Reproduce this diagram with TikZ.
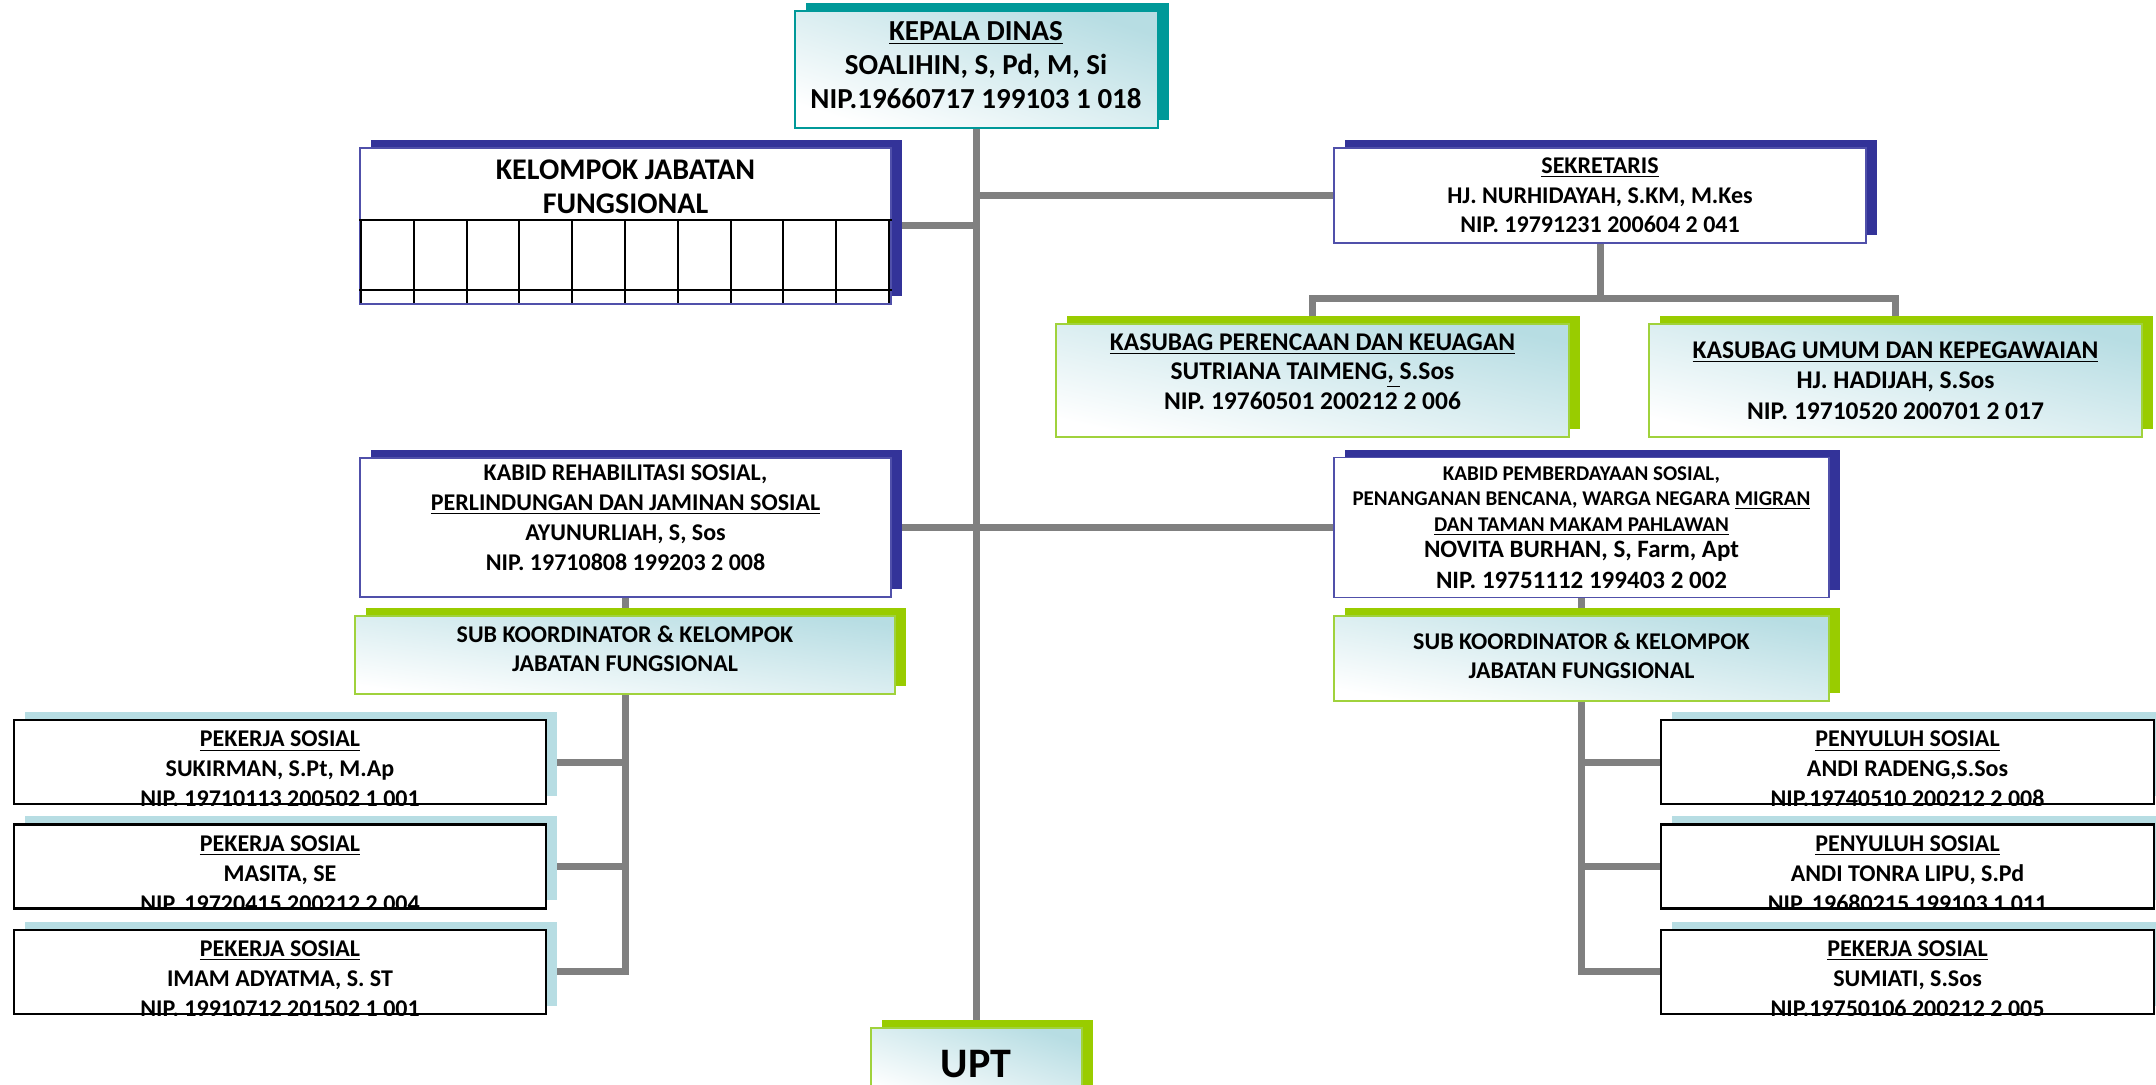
\documentclass[tikz,border=0pt]{standalone}
\usepackage{fontspec}
\setmainfont{Carlito}
\usetikzlibrary{shadows, backgrounds, positioning}

\definecolor{tealdark}{RGB}{0,153,153}
\definecolor{navyshadow}{RGB}{51,51,153}
\definecolor{navyline}{RGB}{80,80,170}
\definecolor{limeshadow}{RGB}{153,204,0}
\definecolor{limeline}{RGB}{160,210,60}
\definecolor{paleblue}{RGB}{183,221,227}
\definecolor{linkgray}{RGB}{128,128,128}

\tikzset{
  orgbox/.style={rectangle, inner sep=2pt, align=center, font=\bfseries},
  gradfill/.style={left color=white, right color=paleblue, shading angle=#1},
  gradfill/.default=167,
  headbox/.style={orgbox, draw=tealdark, line width=1pt, gradfill=162,
    general shadow={fill=tealdark, shadow xshift=5.5pt, shadow yshift=4pt}},
  navybox/.style={orgbox, draw=navyline, line width=0.8pt, fill=white,
    general shadow={fill=navyshadow, shadow xshift=5.5pt, shadow yshift=4pt}},
  limebox/.style={orgbox, draw=limeline, line width=1pt, gradfill=#1,
    general shadow={fill=limeshadow, shadow xshift=5.5pt, shadow yshift=4pt}},
  limebox/.default=167,
  staffbox/.style={orgbox, draw=black, line width=1.2pt, fill=white, minimum height=42pt,
    general shadow={fill=paleblue, shadow xshift=5.5pt, shadow yshift=4pt}},
  stafftext/.style={align=center, inner sep=0pt, anchor=north, font=\bfseries\fontsize{12}{15}\selectfont},
  link/.style={draw=linkgray, line width=3.5pt},
}

\begin{document}
\begin{tikzpicture}[x=0.5pt,y=-0.5pt]
  \useasboundingbox (0,0) rectangle (2156,1085);
  \clip (0,0) rectangle (2156,1085);

  % kepala dinas
  \node[headbox, minimum width=181.5pt, minimum height=58.5pt, text depth=5pt,
    font=\bfseries\fontsize{14.5}{17}\selectfont] (kepala) at (976,69.5)
    {\underline{KEPALA DINAS}\\SOALIHIN, S, Pd, M, Si\\NIP.19660717 199103 1 018};

  % kelompok jabatan fungsional
  \node[navybox, minimum width=265.5pt, minimum height=78pt] (kelompok) at (625.5,226) {};
  \node[align=center, inner sep=0pt, anchor=north, font=\bfseries\fontsize{15}{17}\selectfont]
    (kjtitle) at ([yshift=-6pt]kelompok.north) {KELOMPOK JABATAN\\FUNGSIONAL};
  \draw[line width=1pt] (kelompok.west |- 0,220) -- (kelompok.east |- 0,220);
  \draw[line width=1pt] (kelompok.west |- 0,290) -- (kelompok.east |- 0,290);
  \foreach \i in {0,...,10}
    \draw[line width=1pt] (361+52.8*\i,220) -- (361+52.8*\i,303);

  % sekretariat
  \node[navybox, minimum width=266pt, minimum height=47.5pt,
    font=\bfseries\fontsize{12}{14.75}\selectfont] (sekretaris) at (1600,195.5)
    {\underline{SEKRETARIS}\\HJ. NURHIDAYAH, S.KM, M.Kes\\NIP. 19791231 200604 2 041};
  \node[limebox=167.5, minimum width=256.5pt, minimum height=56.5pt, text depth=9pt,
    font=\bfseries\fontsize{12.75}{14.75}\selectfont] (kasubagP) at (1312.5,380.5)
    {\underline{KASUBAG PERENCAAN DAN KEUAGAN}\\SUTRIANA TAIMENG\underline{, }S.Sos\\NIP. 19760501 200212 2 006};
  \node[limebox=167, minimum width=246.5pt, minimum height=56.5pt,
    font=\bfseries\fontsize{12.75}{15.25}\selectfont] (kasubagU) at (1895.5,380.5)
    {\underline{KASUBAG UMUM DAN KEPEGAWAIAN}\\HJ. HADIJAH, S.Sos\\NIP. 19710520 200701 2 017};

  % bidang
  \node[navybox, minimum width=265.5pt, minimum height=69.5pt, text depth=9.5pt,
    font=\bfseries\fontsize{12}{15}\selectfont] (kabidR) at (625.5,527.5)
    {KABID REHABILITASI SOSIAL,\\\underline{PERLINDUNGAN DAN JAMINAN SOSIAL}\\AYUNURLIAH, S, Sos\\NIP. 19710808 199203 2 008};
  \node[navybox, minimum width=247.5pt, minimum height=70pt,
    font=\bfseries\fontsize{12.5}{15}\selectfont] (kabidP) at (1581.5,527.5)
    {{\fontsize{10.5}{12}\selectfont KABID PEMBERDAYAAN SOSIAL,}\\[-2.5pt]
     {\fontsize{10.5}{12}\selectfont PENANGANAN BENCANA, WARGA NEGARA \underline{MIGRAN}}\\[-2pt]
     {\fontsize{10.5}{12}\selectfont \underline{DAN TAMAN MAKAM PAHLAWAN}}\\[-2pt]
     NOVITA BURHAN, S, Farm, Apt\\[0.5pt]NIP. 19751112 199403 2 002};
  \node[limebox=172, minimum width=270pt, minimum height=39pt, text depth=6.5pt,
    font=\bfseries\fontsize{12}{14.5}\selectfont] (subR) at (625,655)
    {SUB KOORDINATOR \& KELOMPOK\\JABATAN FUNGSIONAL};
  \node[limebox=170, minimum width=247.5pt, minimum height=42.5pt, text depth=3pt,
    font=\bfseries\fontsize{12}{14.5}\selectfont] (subP) at (1581.5,658.5)
    {SUB KOORDINATOR \& KELOMPOK\\JABATAN FUNGSIONAL};

  % pekerja sosial kiri
  \node[staffbox, minimum width=266pt] (ps1) at (280,762) {};
  \node[staffbox, minimum width=266pt, below=9pt of ps1] (ps2) {};
  \node[staffbox, minimum width=266pt, below=9.5pt of ps2] (ps3) {};
  % penyuluh / pekerja sosial kanan
  \node[staffbox, minimum width=246.5pt] (ps4) at (1907.5,762) {};
  \node[staffbox, minimum width=246.5pt, below=9pt of ps4] (ps5) {};
  \node[staffbox, minimum width=246.5pt, below=9.5pt of ps5] (ps6) {};

  \begin{scope}
    \clip (ps1.south west) rectangle (ps1.north east);
    \node[stafftext] (ps1text) at ([yshift=-6pt]ps1.north)
      {\underline{PEKERJA SOSIAL}\\SUKIRMAN, S.Pt, M.Ap\\NIP. 19710113 200502 1 001};
  \end{scope}
  \begin{scope}
    \clip (ps2.south west) rectangle (ps2.north east);
    \node[stafftext] (ps2text) at ([yshift=-6pt]ps2.north)
      {\underline{PEKERJA SOSIAL}\\MASITA, SE\\NIP. 19720415 200212 2 004};
  \end{scope}
  \begin{scope}
    \clip (ps3.south west) rectangle (ps3.north east);
    \node[stafftext] (ps3text) at ([yshift=-6pt]ps3.north)
      {\underline{PEKERJA SOSIAL}\\IMAM ADYATMA, S. ST\\NIP. 19910712 201502 1 001};
  \end{scope}
  \begin{scope}
    \clip (ps4.south west) rectangle (ps4.north east);
    \node[stafftext] (ps4text) at ([yshift=-6pt]ps4.north)
      {\underline{PENYULUH SOSIAL}\\ANDI RADENG,S.Sos\\NIP.19740510 200212 2 008};
  \end{scope}
  \begin{scope}
    \clip (ps5.south west) rectangle (ps5.north east);
    \node[stafftext] (ps5text) at ([yshift=-6pt]ps5.north)
      {\underline{PENYULUH SOSIAL}\\ANDI TONRA LIPU, S.Pd\\NIP. 19680215 199103 1 011};
  \end{scope}
  \begin{scope}
    \clip (ps6.south west) rectangle (ps6.north east);
    \node[stafftext] (ps6text) at ([yshift=-6pt]ps6.north)
      {\underline{PEKERJA SOSIAL}\\SUMIATI, S.Sos\\NIP.19750106 200212 2 005};
  \end{scope}

  % upt
  \node[limebox=161, minimum width=105.5pt, minimum height=36pt,
    font=\bfseries\fontsize{21}{24}\selectfont] (upt) at (976,1064) {UPT};

  % garis
  \begin{pgfonlayer}{background}
    \fill[white] (0,0) rectangle (2156,1085);
    \draw[link] (kepala.south) -- (upt.north);
    \draw[link] (kelompok.east) -- (kelompok.east -| kepala.south);
    \draw[link] (sekretaris.west) -- (sekretaris.west -| kepala.south);
    \draw[link] (kasubagP.north) -- ++(0,-24) coordinate (sekbus) -| (kasubagU.north);
    \draw[link] (sekretaris.south) -- (sekretaris.south |- sekbus);
    \draw[link] (kabidR.east) -- (kabidP.west);
    \draw[link] (kabidR.south) |- (ps3.east);
    \draw[link] (ps1.east) -- (ps1.east -| kabidR.south);
    \draw[link] (ps2.east) -- (ps2.east -| kabidR.south);
    \draw[link] (kabidP.south) |- (ps6.west);
    \draw[link] (ps4.west) -- (ps4.west -| kabidP.south);
    \draw[link] (ps5.west) -- (ps5.west -| kabidP.south);
  \end{pgfonlayer}
\end{tikzpicture}
\end{document}
